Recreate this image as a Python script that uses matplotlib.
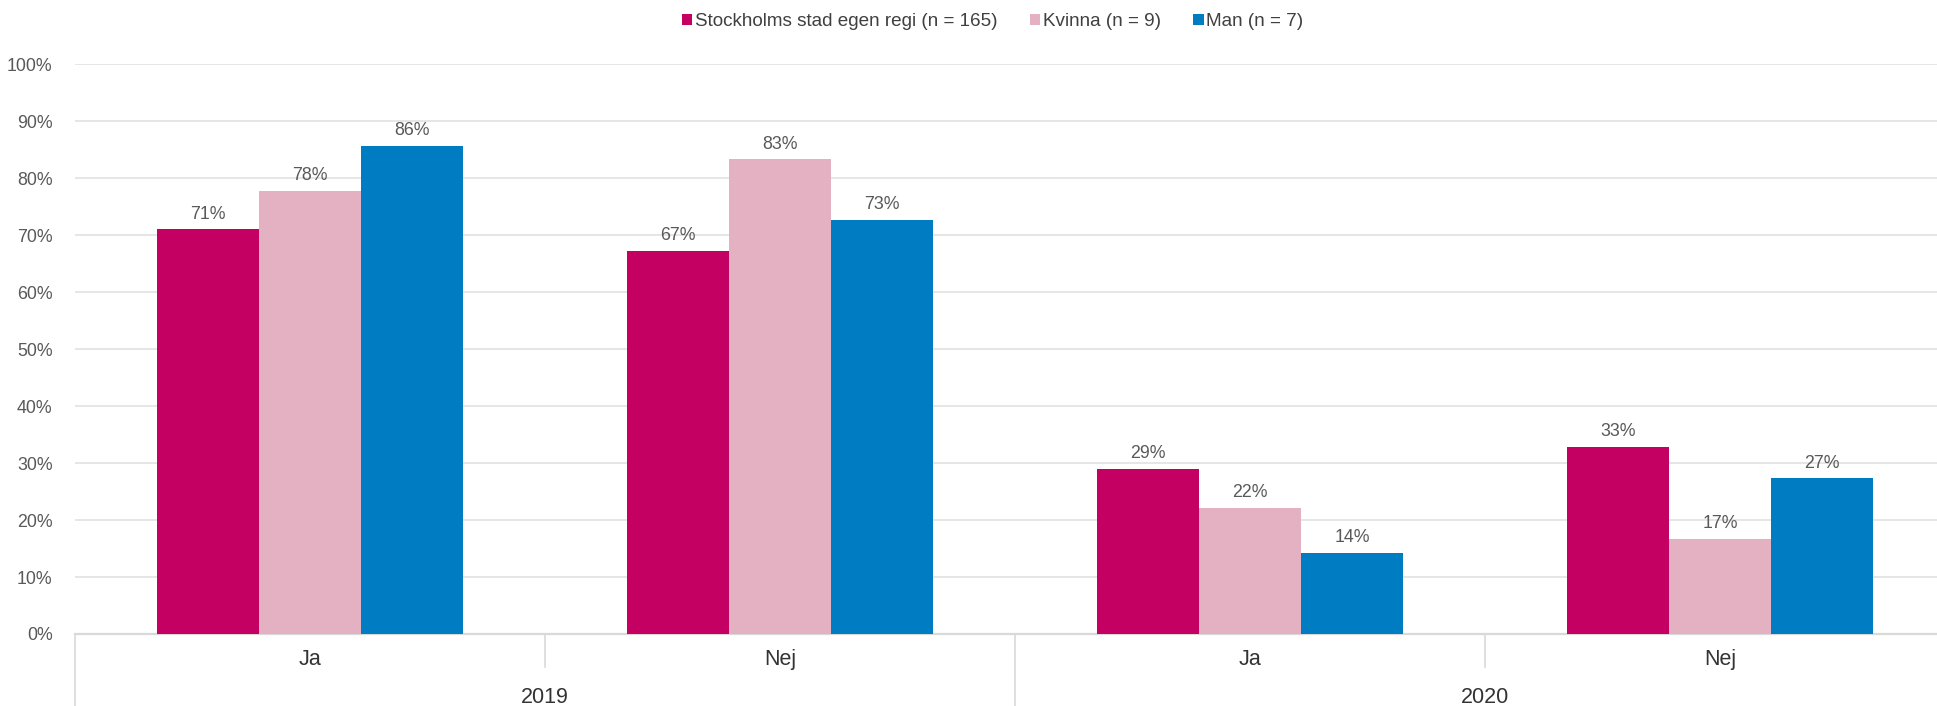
import matplotlib.pyplot as plt
import matplotlib.transforms as mtransforms
import numpy as np

plt.rcParams['font.family'] = ['Liberation Sans', 'DejaVu Sans']

# Data
answers = ['Ja', 'Nej', 'Ja', 'Nej']
years = ['2019', '2020']
series_names = ['Stockholms stad egen regi (n = 165)', 'Kvinna (n = 9)', 'Man (n = 7)']
stockholm = [71.0, 67.2, 29.0, 32.8]
kvinna = [77.8, 83.3, 22.2, 16.7]
man = [85.7, 72.7, 14.3, 27.3]
yticks = [0, 10, 20, 30, 40, 50, 60, 70, 80, 90, 100]

colors = ['#C40062', '#E3B1C2', '#007CC3']
text_gray = '#595959'
grid_gray = '#E2E2E2'

fig = plt.figure(figsize=(19.37, 7.06), dpi=100)
ax = fig.add_axes([0.0386, 0.102, 0.9707, 0.807])

x = np.arange(len(answers)) + 0.5
bar_w = 0.217
for i, (vals, name, col) in enumerate(zip([stockholm, kvinna, man], series_names, colors)):
    pos = x + (i - 1) * bar_w
    ax.bar(pos, vals, width=bar_w, color=col, label=name, zorder=3)
    for p, v in zip(pos, vals):
        ax.text(p, v + 1.2, f'{v:.0f}%', ha='center', va='bottom',
                fontsize=12.8, color=text_gray)

ax.set_xlim(0, len(answers))
ax.set_ylim(0, 100)
ax.set_yticks(yticks)
ax.set_yticklabels([f'{t}%' for t in yticks], fontsize=12.8, color=text_gray)
ax.tick_params(axis='y', length=0, pad=16)
ax.set_xticks([])
ax.grid(axis='y', color=grid_gray, linewidth=1.2, zorder=0)
for s in ['top', 'right', 'left']:
    ax.spines[s].set_visible(False)
ax.spines['bottom'].set_color('#D9D9D9')
ax.spines['bottom'].set_linewidth(1.6)

# multi-level category axis
trans = mtransforms.blended_transform_factory(ax.transData, ax.transAxes)
for xi, lab in zip(x, answers):
    ax.text(xi, -0.045, lab, transform=trans, ha='center', va='center',
            fontsize=15.5, color='#333333')
for gi, yr in enumerate(years):
    ax.text(gi * 2 + 1, -0.111, yr, transform=trans, ha='center', va='center',
            fontsize=15.5, color='#333333')
for xb in [0, 2]:
    ax.plot([xb, xb], [0, -0.13], transform=trans, color='#D9D9D9',
            linewidth=1.2, clip_on=False)
for xb in [1, 3]:
    ax.plot([xb, xb], [0, -0.058], transform=trans, color='#D9D9D9',
            linewidth=1.2, clip_on=False)

leg = fig.legend(loc='center', bbox_to_anchor=(0.5125, 0.969), ncol=3, frameon=False,
                 fontsize=13.6, handlelength=0.55, handleheight=0.55,
                 handletextpad=0.15, columnspacing=1.7)
for t in leg.get_texts():
    t.set_color('#404040')

plt.savefig('out.png', dpi=100)
